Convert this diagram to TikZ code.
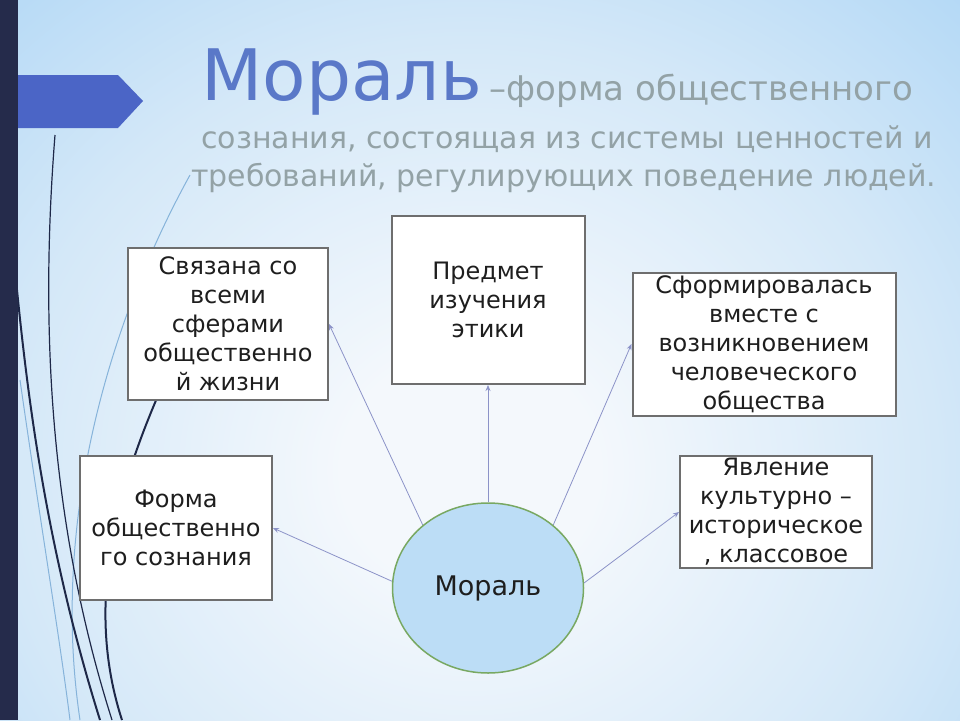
\documentclass[tikz,border=0pt]{standalone}
\usepackage{fontspec}
\setmainfont{DejaVu Sans}
\usetikzlibrary{shapes, arrows.meta, positioning}

\definecolor{barnavy}{HTML}{252B4B}
\definecolor{bannerblue}{HTML}{4B65C6}
\definecolor{titleblue}{HTML}{5A78C8}
\definecolor{subgrey}{HTML}{93A2A6}
\definecolor{boxgrey}{HTML}{6E6E6E}
\definecolor{textdark}{HTML}{1E1E1E}
\definecolor{arrowblue}{HTML}{8C93C8}
\definecolor{ellblue}{HTML}{BCDDF6}
\definecolor{ellgreen}{HTML}{78A862}
\definecolor{curvedark}{HTML}{1E2848}
\definecolor{curvelight}{HTML}{86B3DA}
\definecolor{bgin}{HTML}{F4F8FC}
\definecolor{bgmid}{HTML}{D4E8F8}
\definecolor{bgout}{HTML}{A8D3F5}

\pgfdeclareradialshading{slidebg}{\pgfpoint{0bp}{0bp}}{color(0bp)=(bgin); color(6bp)=(bgin); color(22bp)=(bgmid); color(38bp)=(bgout); color(50bp)=(bgout)}

\begin{document}
\begin{tikzpicture}[
      x=1pt, y=-1pt,
      font=\fontsize{24}{29}\selectfont,
      box/.style={rectangle, draw=boxgrey, line width=2pt, fill=white, text=textdark, align=center, inner sep=0pt},
      arrow/.style={draw=arrowblue, line width=0.8pt, -{Stealth[length=6pt,width=5pt]}},
      deco/.style={draw=curvedark, line width=2pt}
    ]
      \useasboundingbox (0,0) rectangle (960,720);
      \shade [shading=slidebg] (-60,-20) rectangle (1000,960);

      % decorative curves on the left
      \draw [curvelight, line width=1pt] (190,175) .. controls (110,320) and (50,520) .. (80,720);
      \draw [curvelight, line width=1pt] (20,380) .. controls (40,520) and (60,640) .. (70,720);
      \draw [deco] (17,290) .. controls (30,420) and (50,560) .. (100,720);
      \draw [deco, line width=1.2pt] (55,135) .. controls (38,350) and (55,540) .. (112,720);
      \draw [deco] (230,250) .. controls (150,400) and (70,560) .. (122,720);

      \fill [barnavy] (0,0) rectangle (18,720);
      \fill [bannerblue] (18,75) -- (118,75) -- (143,101) -- (118,128) -- (18,128) -- cycle;

      % title
      \node (title) [anchor=base west, text=titleblue, font=\fontsize{71}{71}\selectfont] at (198,100) {Мораль};
      \node (def1) [anchor=base west, text=subgrey, font=\fontsize{34}{34}\selectfont] at (486,100) {–форма общественного};
      \node (def2) [anchor=base east, text=subgrey, font=\fontsize{30}{30}\selectfont] at (936,148) {сознания, состоящая из системы ценностей и};
      \node (def3) [anchor=base east, text=subgrey, font=\fontsize{30}{30}\selectfont] at (940,186) {требований, регулирующих поведение людей.};

      % boxes
      \node (rel) [box, minimum width=200pt, minimum height=152pt] at (228,324) {Связана со\\всеми\\сферами\\общественно\\й жизни};
      \node (subj) [box, minimum width=193pt, minimum height=168pt] at (488,300) {Предмет\\изучения\\этики};
      \node (formed) [box, minimum width=263pt, minimum height=143pt] at (764,344) {Сформировалась\\вместе с\\возникновением\\человеческого\\общества};
      \node (form) [box, minimum width=192pt, minimum height=144pt] at (176,528) {Форма\\общественно\\го сознания};
      \node (phen) [box, minimum width=192pt, minimum height=112pt] at (776,512) {Явление\\культурно –\\историческое\\, классовое};
      \node (moral) [ellipse, draw=ellgreen, line width=1.5pt, fill=ellblue, text=textdark, font=\fontsize{27}{29}\selectfont, minimum width=191pt, minimum height=170pt] at (488,588) {Мораль};

      \draw [arrow] (moral.136) -- (rel.east);
      \draw [arrow] (moral.north) -- (subj.south);
      \draw [arrow] (moral.44) -- (formed.west);
      \draw [arrow] (moral.176) -- (form.east);
      \draw [arrow] (moral.3) -- (phen.west);
    \end{tikzpicture}
\end{document}
